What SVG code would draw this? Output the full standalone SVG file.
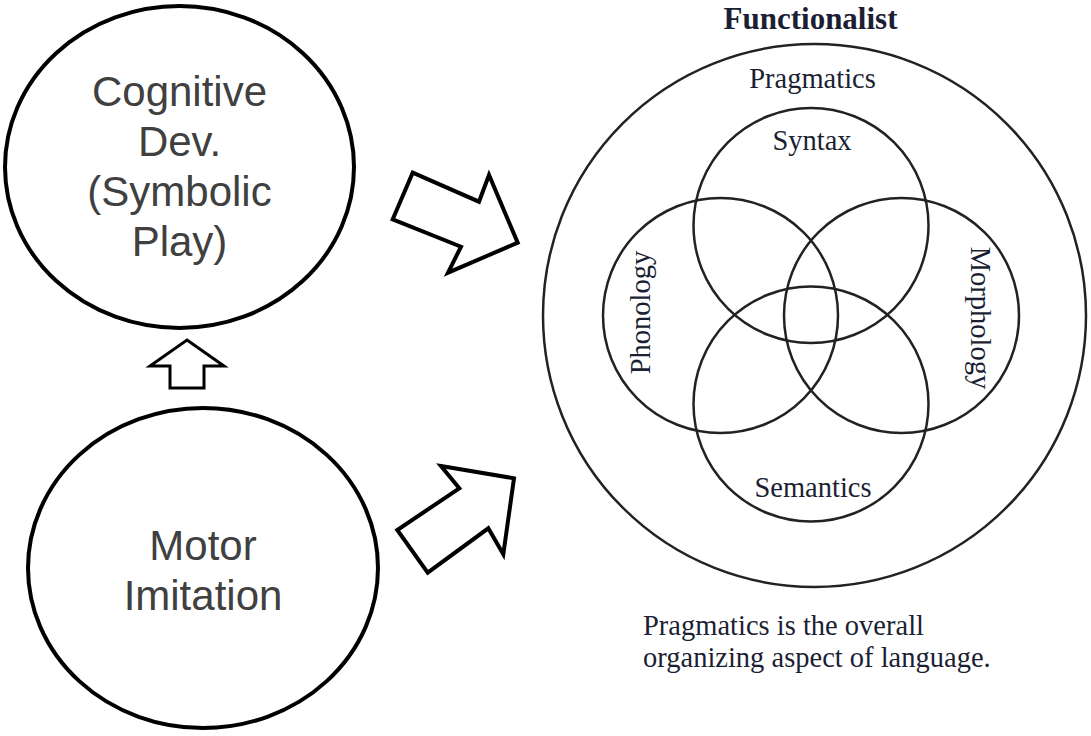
<svg xmlns="http://www.w3.org/2000/svg" width="1091" height="736" viewBox="0 0 1091 736">
<style>
.bg{fill:#ffffff}
.node{fill:#ffffff;stroke:#000000;stroke-width:4}
.lbl{font-family:"Liberation Sans",Arial,sans-serif;font-size:42px;fill:#404040;text-anchor:middle}
.arrow{fill:#ffffff;stroke:#000000;stroke-width:4;stroke-linejoin:miter}
.ring{fill:none;stroke:#222222;stroke-width:2.5}
.serif{font-family:"Liberation Serif","Times New Roman",serif;font-size:28.5px;fill:#1c1f33}
.mid{text-anchor:middle}
</style>
<rect class="bg" x="0" y="0" width="1091" height="736"/>
<g id="cognitive">
<ellipse class="node" cx="179.5" cy="167" rx="174.5" ry="161"/>
<text class="lbl" x="179.5" y="106">Cognitive</text>
<text class="lbl" x="179.5" y="156">Dev.</text>
<text class="lbl" x="179.5" y="206">(Symbolic</text>
<text class="lbl" x="179.5" y="256">Play)</text>
</g>
<g id="motor">
<ellipse class="node" cx="203" cy="568" rx="175" ry="160"/>
<text class="lbl" x="203" y="560">Motor</text>
<text class="lbl" x="203" y="610">Imitation</text>
</g>
<g id="connectors">
<polygon class="arrow" style="stroke-width:3" points="187,340 224,366 204,366 204,388 170,388 170,366 150,366"/>
<polygon class="arrow" points="412.7,172.7 479,201.7 489,175 517.7,242.7 448,272.7 461,246.7 392.7,219.3"/>
<polygon class="arrow" points="441,466 514,478.3 503.3,554.3 488.3,528.3 427.7,572.7 397.3,530 459.3,488.3"/>
</g>
<g id="functionalist">
<text class="serif mid" x="810.5" y="29" style="font-weight:bold;font-size:31px">Functionalist</text>
<circle class="ring" cx="814.5" cy="315.5" r="271.5"/>
<text class="serif mid" x="812.5" y="88">Pragmatics</text>
</g>
<g id="syntax">
<circle class="ring" cx="811" cy="225.5" r="117.5"/>
<text class="serif mid" x="812" y="150">Syntax</text>
</g>
<g id="phonology">
<circle class="ring" cx="720.5" cy="315.5" r="117.5"/>
<text class="serif mid" transform="translate(650,312.5) rotate(-90)" x="0" y="0">Phonology</text>
</g>
<g id="morphology">
<circle class="ring" cx="901.5" cy="315.5" r="117.5"/>
<text class="serif mid" transform="translate(971,318) rotate(90)" x="0" y="0">Morphology</text>
</g>
<g id="semantics">
<circle class="ring" cx="811" cy="404" r="117.5"/>
<text class="serif mid" x="813" y="497">Semantics</text>
</g>
<g id="caption">
<text class="serif" x="643" y="635">Pragmatics is the overall</text>
<text class="serif" x="643" y="667">organizing aspect of language.</text>
</g>
</svg>
